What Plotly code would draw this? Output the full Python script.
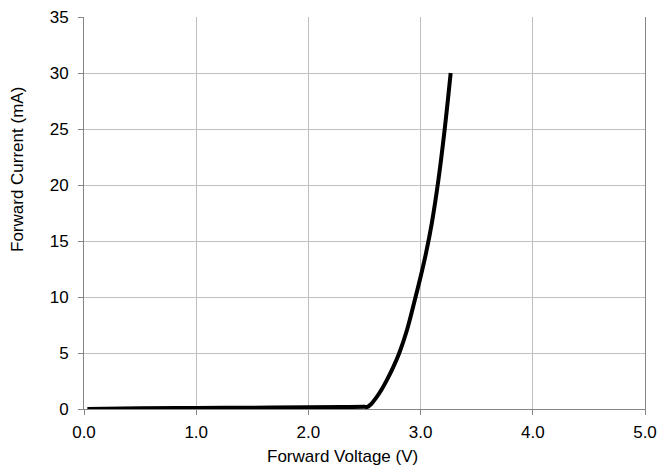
import plotly.graph_objects as go

voltage = [0.03, 0.5, 1.0, 1.5, 2.0, 2.3, 2.5, 2.527, 2.56, 2.6, 2.65, 2.7, 2.75, 2.81, 2.88, 2.94,
           3.0, 3.05, 3.1, 3.158, 3.215, 3.268]
current = [0.0, 0.06, 0.09, 0.12, 0.15, 0.17, 0.19, 0.2, 0.45, 0.95, 1.7, 2.6, 3.6, 5.0, 7.1, 9.4,
           11.8, 14.0, 16.6, 20.4, 25.0, 30.0]

x_ticks = [0, 1, 2, 3, 4, 5]
x_tick_labels = ["0.0", "1.0", "2.0", "3.0", "4.0", "5.0"]
y_ticks = [0, 5, 10, 15, 20, 25, 30, 35]
x_title = "Forward Voltage (V)"
y_title = "Forward Current (mA)"

fig = go.Figure()
fig.add_trace(go.Scatter(
    x=voltage, y=current, mode="lines",
    line=dict(color="black", width=4, shape="spline", smoothing=1),
    showlegend=False, hoverinfo="skip",
))

font_family = "Liberation Sans, Arial, sans-serif"
fig.update_layout(
    width=661, height=473,
    margin=dict(l=84, r=16, t=17, b=64, autoexpand=False),
    paper_bgcolor="white", plot_bgcolor="white",
    font=dict(family=font_family, color="black"),
    xaxis=dict(
        range=[0, 5], tickvals=x_ticks, ticktext=x_tick_labels,
        automargin=False, ticklabeloverflow="allow",
        showgrid=True, gridcolor="#bfbfbf", gridwidth=1,
        showline=True, linecolor="#868686", linewidth=1,
        ticks="outside", ticklen=5, tickcolor="#868686",
        tickfont=dict(size=17, family=font_family),
        ticklabelstandoff=3,
        zeroline=False,
    ),
    yaxis=dict(
        range=[0, 35], tickvals=y_ticks,
        automargin=False, ticklabeloverflow="allow",
        showgrid=True, gridcolor="#bfbfbf", gridwidth=1,
        showline=True, linecolor="#868686", linewidth=1, mirror=True,
        ticks="outside", ticklen=5, tickcolor="#868686",
        tickfont=dict(size=17, family=font_family),
        ticklabelstandoff=6,
        zeroline=False,
    ),
    annotations=[
        dict(text=x_title, xref="paper", yref="paper",
             x=(342 - 84) / (661 - 100), y=-(456 - 409) / (409 - 17),
             xanchor="center", yanchor="middle", showarrow=False,
             font=dict(size=17, family=font_family, color="black")),
        dict(text=y_title, xref="paper", yref="paper",
             x=-(84 - 18) / (661 - 100), y=(409 - 170) / (409 - 17),
             xanchor="center", yanchor="middle", showarrow=False, textangle=-90,
             font=dict(size=17, family=font_family, color="black")),
    ],
)

fig.write_html("out.html", config={"displayModeBar": False},
               post_script="document.body.style.margin='0';")
